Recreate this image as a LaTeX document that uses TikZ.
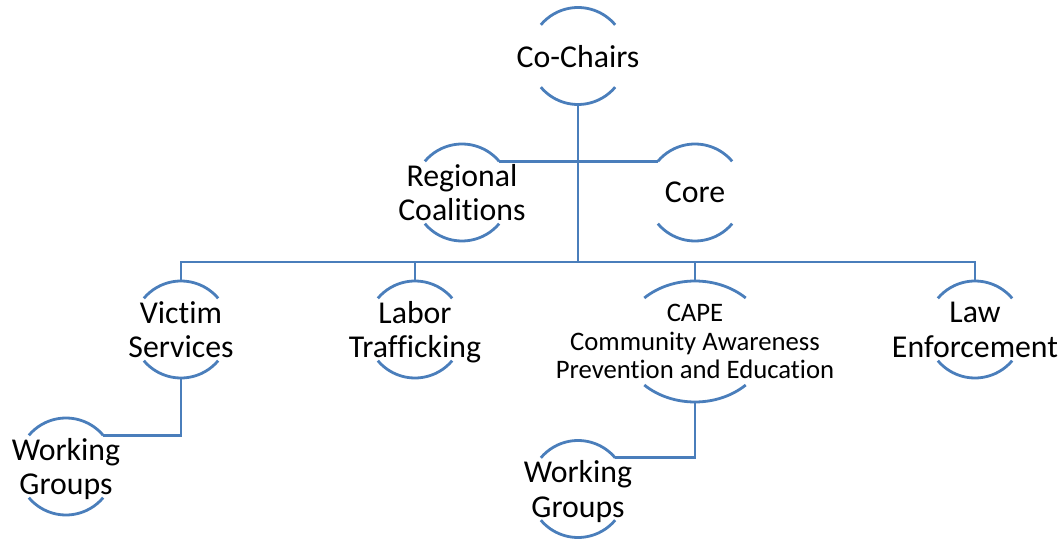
\documentclass[tikz,border=0pt]{standalone}
\usepackage{fontspec}
\setmainfont[Ligatures={NoCommon,NoRare}]{Carlito}
\usetikzlibrary{calc}
\definecolor{orgblue}{RGB}{74,126,187}

\tikzset{
    unit/.style={font=\fontsize{31.8}{34.8}\selectfont, align=center, inner sep=0pt, text depth=0pt},
    smallunit/.style={font=\fontsize{26.7}{28.5}\selectfont, align=center, inner sep=0pt, text depth=0pt},
    conn/.style={orgblue, line width=2.8pt},
    halfarc/.style={orgblue, line width=2.8pt}
}

% top and bottom arcs round a node: name, x radius, y radius, angle
\newcommand{\halfcirc}[4]{%
    \coordinate (#1-t) at ($(#1.center)+(0,#3)$);
    \coordinate (#1-b) at ($(#1.center)+(0,-#3)$);
    \coordinate (#1-ne) at ($(#1.center)+({#2*cos(#4)},{#3*sin(#4)})$);
    \coordinate (#1-nw) at ($(#1.center)+({-#2*cos(#4)},{#3*sin(#4)})$);
    \draw[halfarc] (#1-ne) arc[start angle=#4, end angle=180-#4, x radius=#2, y radius=#3];
    \draw[halfarc] ($(#1.center)+({-#2*cos(#4)},{-#3*sin(#4)})$) arc[start angle=180+#4, end angle=360-#4, x radius=#2, y radius=#3];
}

\begin{document}
\begin{tikzpicture}[x=1pt, y=1pt]
        \useasboundingbox (0,0) rectangle (1064,538);

        \node[unit] (chairs) at (578,482) {Co-Chairs};
        \node[unit] (regional) at (462,345.5) {Regional\\Coalitions};
        \node[unit] (core) at (695,345.5) {Core};
        \node[unit] (victim) at (181,208.5) {Victim\\Services};
        \node[unit] (labor) at (415,208.5) {Labor\\Trafficking};
        \node[smallunit] (cape) at (695,196.5) {CAPE\\Community Awareness\\Prevention and Education};
        \node[unit] (law) at (975,208.5) {Law\\Enforcement};
        \node[unit] (workvs) at (66,71.5) {Working\\Groups};
        \node[unit] (workcape) at (578,49) {Working\\Groups};

        \halfcirc{chairs}{48.5}{48.5}{40}
        \halfcirc{regional}{48.5}{48.5}{40}
        \halfcirc{core}{48.5}{48.5}{40}
        \halfcirc{victim}{48.5}{48.5}{40}
        \halfcirc{labor}{48.5}{48.5}{40}
        \halfcirc{cape}{73}{60.5}{46}
        \halfcirc{law}{48.5}{48.5}{40}
        \halfcirc{workvs}{48.5}{48.5}{40}
        \halfcirc{workcape}{48.5}{48.5}{40}

        \coordinate (bus) at (578,276);

        \draw[conn] (chairs-b) -- (bus);
        \draw[conn] (regional-ne) -- (core-nw);
        \draw[conn] (victim-t) |- (bus) -| (law-t);
        \draw[conn] (labor-t) -- (labor-t |- bus);
        \draw[conn] (cape-t) -- (cape-t |- bus);
        \draw[conn] (victim-b) |- (workvs-ne);
        \draw[conn] (cape-b) |- (workcape-ne);
    \end{tikzpicture}
\end{document}
